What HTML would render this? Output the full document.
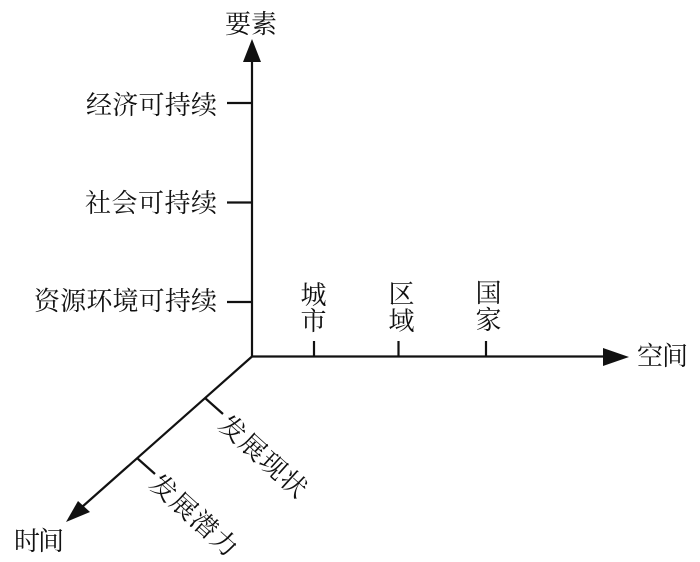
<!DOCTYPE html>
<html><head><meta charset="utf-8"><style>
html,body{margin:0;padding:0;background:#fff}
svg{display:block}
text{font-family:"Liberation Serif","Noto Serif CJK SC",serif;font-size:26px;fill:#111}
</style></head><body>
<svg width="700" height="562" viewBox="0 0 700 562" xmlns="http://www.w3.org/2000/svg">
<g stroke="#111" stroke-width="2.2" fill="none">
<line x1="252" y1="357" x2="252" y2="60"/>
<line x1="251" y1="356.500" x2="606" y2="356.500"/>
<line x1="252" y1="356.500" x2="82" y2="507"/>
<line x1="227" y1="103" x2="252" y2="103"/>
<line x1="227" y1="202.500" x2="252" y2="202.500"/>
<line x1="227" y1="302" x2="252" y2="302"/>
<line x1="314" y1="341" x2="314" y2="356"/>
<line x1="398.500" y1="341" x2="398.500" y2="356"/>
<line x1="486" y1="341" x2="486" y2="356"/>
<line x1="205" y1="398" x2="223" y2="414"/>
<line x1="137" y1="458" x2="155" y2="474"/>
</g>
<g fill="#111">
<polygon points="252,39 243,62 261,62"/>
<polygon points="629,357 603,348 603,366"/>
<polygon points="66,522 78,501 90,512"/>
</g>
<text x="225" y="33" textLength="52">要素</text>
<text x="86" y="114" textLength="131">经济可持续</text>
<text x="85" y="212" textLength="132">社会可持续</text>
<text x="34" y="310" textLength="183">资源环境可持续</text>
<text x="300.500" y="304">城</text>
<text x="300.500" y="330">市</text>
<text x="388.500" y="303">区</text>
<text x="388.500" y="330">域</text>
<text x="475.500" y="302">国</text>
<text x="475.500" y="329">家</text>
<text x="637" y="365" textLength="51">空间</text>
<text x="14" y="550" textLength="50">时间</text>
<text transform="translate(217,427) rotate(42)" textLength="108">发展现状</text>
<text transform="translate(148,486) rotate(42)" textLength="108">发展潜力</text>
</svg>
</body></html>
